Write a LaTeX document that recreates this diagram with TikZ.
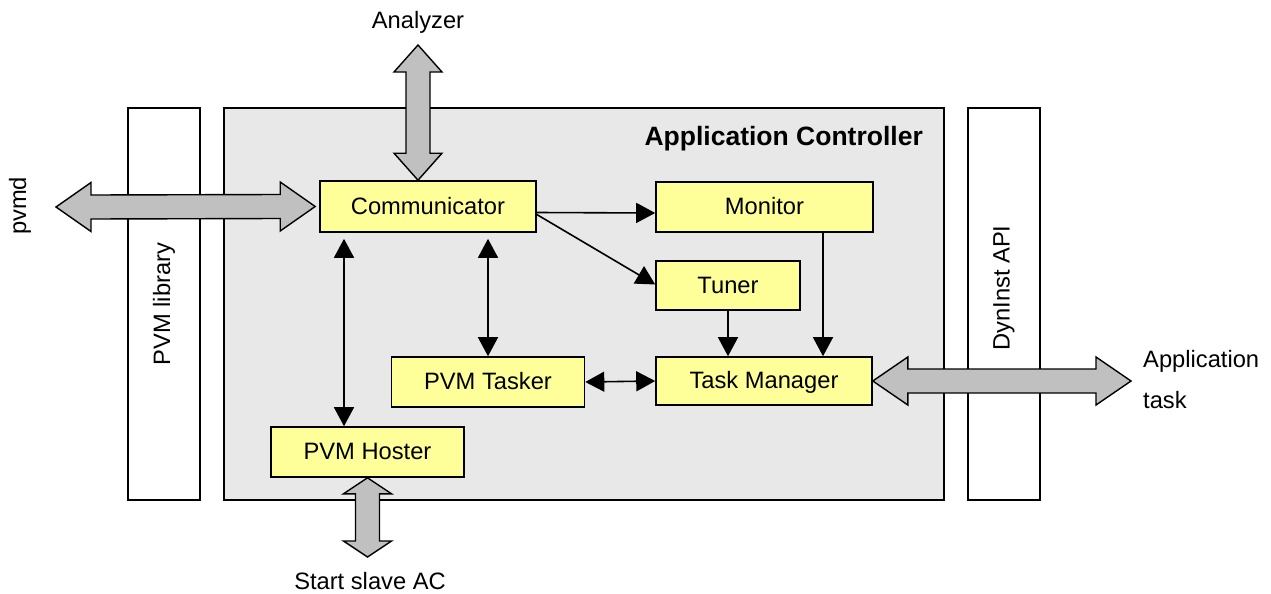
\documentclass[tikz,border=0pt]{standalone}
\usepackage{fontspec}
\setmainfont{Liberation Sans}
\usetikzlibrary{arrows.meta,calc}

\definecolor{modyellow}{HTML}{FFFF99}
\definecolor{acgray}{HTML}{E8E8E8}
\definecolor{pipegray}{HTML}{C0C0C0}

% horizontal double block arrow: left tip, right tip, half shaft, half head, head length
\newcommand\fathorarrow[5]{%
  \draw[pipe] (#1) -- ($(#1)+(#5,-#4)$) -- ($(#1)+(#5,-#3)$) -- ($(#2)+(-#5,-#3)$)
    -- ($(#2)+(-#5,-#4)$) -- (#2) -- ($(#2)+(-#5,#4)$) -- ($(#2)+(-#5,#3)$)
    -- ($(#1)+(#5,#3)$) -- ($(#1)+(#5,#4)$) -- cycle;}
% vertical double block arrow: top tip, bottom tip, half shaft, half head, head length
\newcommand\fatverarrow[5]{%
  \draw[pipe] (#1) -- ($(#1)+(#4,#5)$) -- ($(#1)+(#3,#5)$) -- ($(#2)+(#3,-#5)$)
    -- ($(#2)+(#4,-#5)$) -- (#2) -- ($(#2)+(-#4,-#5)$) -- ($(#2)+(-#3,-#5)$)
    -- ($(#1)+(-#3,#5)$) -- ($(#1)+(-#4,#5)$) -- cycle;}

\begin{document}
\begin{tikzpicture}[x=1pt,y=-1pt,
  every node/.style={font=\fontsize{23.7}{28}\selectfont, inner sep=0pt},
  layer/.style={draw, line width=1.6pt, fill=white, minimum width=72pt, minimum height=392pt},
  module/.style={draw, line width=1.6pt, fill=modyellow, text height=19pt, text depth=4pt},
  link/.style={line width=1.6pt, -{Triangle[length=19pt,width=20pt]}},
  duplex/.style={line width=1.6pt, {Triangle[length=19pt,width=20pt]}-{Triangle[length=19pt,width=20pt]}},
  pipe/.style={draw, line width=1.4pt, fill=pipegray, line join=miter}]
\useasboundingbox (0,0) rectangle (1271,594);

% side layers and the controller frame
\node[layer] (pvmlib) at (164,304) {};
\node[rotate=90] (pvmlibtext) at (164,304) {PVM library};
\node[layer, draw, fill=acgray, minimum width=720pt] (ac) at (584,304) {};
\node[layer] (dyninst) at (1004,304) {};
\node[rotate=90] (dyninsttext) at (1004,288) {DynInst API};
\node[anchor=base east, font=\fontsize{26.5}{30}\selectfont\bfseries] (actitle) at (923,145) {Application Controller};

% modules
\node[module, minimum width=216pt, minimum height=51pt] (comm) at (428,206.5) {Communicator};
\node[module, minimum width=217pt, minimum height=50pt] (monitor) at (764.5,207) {Monitor};
\node[module, minimum width=144pt, minimum height=49pt] (tuner) at (728,285.5) {Tuner};
\node[module, minimum width=216pt, minimum height=48pt] (taskman) at (764,381) {Task Manager};
\node[module, minimum width=193pt, minimum height=50pt] (tasker) at (488,382) {PVM Tasker};
\node[module, minimum width=193pt, minimum height=50pt] (hoster) at (367.5,452) {PVM Hoster};

% outside labels
\node[anchor=base] (analyzer) at (418,29) {Analyzer};
\node[rotate=90] (pvmd) at (20,206) {pvmd};
\node[anchor=base west] (applabel) at (1143,367) {Application};
\node[anchor=base west] (tasklabel) at (1143,408) {task};
\node[anchor=base] (slave) at (370,589) {Start slave AC};

% internal connectors
\draw[link] ($(comm.east)+(0,6)$) -- ($(monitor.west)+(0,6)$);
\draw[link] ($(comm.east)+(0,8)$) -- ($(tuner.west)+(0,-1)$);
\draw[link] (monitor.south -| 823,0) -- (taskman.north -| 823,0);
\draw[link] (tuner.south) -- (tuner.south |- taskman.north);
\draw[duplex] (tasker.east) -- (taskman.west);
\draw[duplex, shorten <=6pt] (tasker.north |- comm.south) -- (tasker.north);
\draw[duplex, shorten <=6pt] (comm.south -| 344,0) -- (hoster.north -| 344,0);

% external block arrows
\coordinate (pvmdtip) at (56,207);
\coordinate (anatip) at (418,45);
\coordinate (slavetip) at (367.5,557);
\coordinate (apptip) at (1131,381);
\fathorarrow{pvmdtip}{$(comm.west)+(-4,0)$}{12}{24.5}{35}
\fatverarrow{anatip}{comm.north -| anatip}{12}{24}{27}
\fatverarrow{hoster.south}{slavetip}{12}{24}{16}
\fathorarrow{taskman.east}{apptip}{12}{24}{35}
\end{tikzpicture}
\end{document}
